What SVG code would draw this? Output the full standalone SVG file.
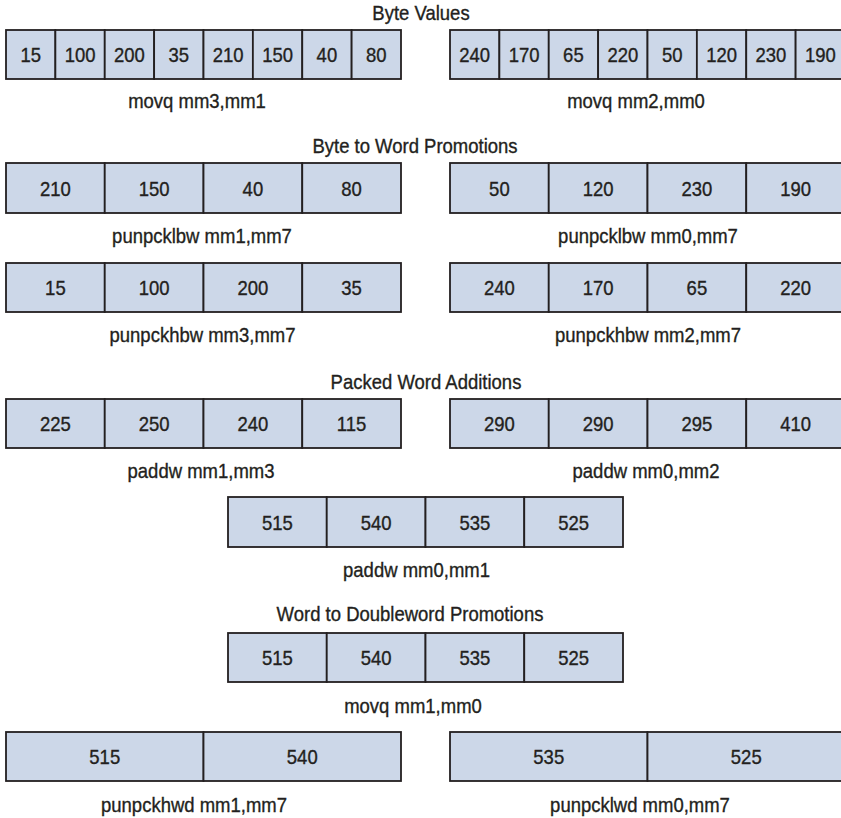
<svg xmlns="http://www.w3.org/2000/svg" width="841" height="818" viewBox="0 0 841 818">
<style>
  .c { fill: #CCD7E8; stroke: #231F20; stroke-width: 1.8; }
  text { font-family: "Liberation Sans", Arial, sans-serif; font-size: 20px; fill: #231F20; stroke: #231F20; stroke-width: 0.35; text-anchor: middle; }
</style>
<rect width="841" height="818" fill="#FFFFFF"/>

<!-- Titles -->
<g id="titles">
  <text transform="matrix(0.925 0 0 1 421 20)">Byte Values</text>
  <text transform="matrix(0.925 0 0 1 415 153)">Byte to Word Promotions</text>
  <text transform="matrix(0.925 0 0 1 426 389)">Packed Word Additions</text>
  <text transform="matrix(0.925 0 0 1 410 621)">Word to Doubleword Promotions</text>
</g>

<!-- Row 1: byte values -->
<g id="mm1-bytes">
  <rect class="c" x="6" y="30" width="49.375" height="49"/>
  <rect class="c" x="55.375" y="30" width="49.375" height="49"/>
  <rect class="c" x="104.75" y="30" width="49.375" height="49"/>
  <rect class="c" x="154.125" y="30" width="49.375" height="49"/>
  <rect class="c" x="203.5" y="30" width="49.375" height="49"/>
  <rect class="c" x="252.875" y="30" width="49.375" height="49"/>
  <rect class="c" x="302.25" y="30" width="49.375" height="49"/>
  <rect class="c" x="351.625" y="30" width="49.375" height="49"/>
  <text transform="matrix(0.925 0 0 1 30.7 61.5)">15</text>
  <text transform="matrix(0.925 0 0 1 80.1 61.5)">100</text>
  <text transform="matrix(0.925 0 0 1 129.4 61.5)">200</text>
  <text transform="matrix(0.925 0 0 1 178.8 61.5)">35</text>
  <text transform="matrix(0.925 0 0 1 228.2 61.5)">210</text>
  <text transform="matrix(0.925 0 0 1 277.6 61.5)">150</text>
  <text transform="matrix(0.925 0 0 1 326.9 61.5)">40</text>
  <text transform="matrix(0.925 0 0 1 376.3 61.5)">80</text>
  <text transform="matrix(0.925 0 0 1 197 108)">movq mm3,mm1</text>
</g>
<g id="mm0-bytes">
  <rect class="c" x="450" y="30" width="49.375" height="49"/>
  <rect class="c" x="499.375" y="30" width="49.375" height="49"/>
  <rect class="c" x="548.75" y="30" width="49.375" height="49"/>
  <rect class="c" x="598.125" y="30" width="49.375" height="49"/>
  <rect class="c" x="647.5" y="30" width="49.375" height="49"/>
  <rect class="c" x="696.875" y="30" width="49.375" height="49"/>
  <rect class="c" x="746.25" y="30" width="49.375" height="49"/>
  <rect class="c" x="795.625" y="30" width="49.375" height="49"/>
  <text transform="matrix(0.925 0 0 1 474.7 61.5)">240</text>
  <text transform="matrix(0.925 0 0 1 524.1 61.5)">170</text>
  <text transform="matrix(0.925 0 0 1 573.4 61.5)">65</text>
  <text transform="matrix(0.925 0 0 1 622.8 61.5)">220</text>
  <text transform="matrix(0.925 0 0 1 672.2 61.5)">50</text>
  <text transform="matrix(0.925 0 0 1 721.6 61.5)">120</text>
  <text transform="matrix(0.925 0 0 1 770.9 61.5)">230</text>
  <text transform="matrix(0.925 0 0 1 820.3 61.5)">190</text>
  <text transform="matrix(0.925 0 0 1 636 108)">movq mm2,mm0</text>
</g>

<!-- Row 2: punpcklbw -->
<g id="mm1-lo-words">
  <rect class="c" x="6" y="163" width="98.75" height="50"/>
  <rect class="c" x="104.75" y="163" width="98.75" height="50"/>
  <rect class="c" x="203.5" y="163" width="98.75" height="50"/>
  <rect class="c" x="302.25" y="163" width="98.75" height="50"/>
  <text transform="matrix(0.925 0 0 1 55.4 195.5)">210</text>
  <text transform="matrix(0.925 0 0 1 154.1 195.5)">150</text>
  <text transform="matrix(0.925 0 0 1 252.9 195.5)">40</text>
  <text transform="matrix(0.925 0 0 1 351.6 195.5)">80</text>
  <text transform="matrix(0.925 0 0 1 202 243)">punpcklbw mm1,mm7</text>
</g>
<g id="mm0-lo-words">
  <rect class="c" x="450" y="163" width="98.75" height="50"/>
  <rect class="c" x="548.75" y="163" width="98.75" height="50"/>
  <rect class="c" x="647.5" y="163" width="98.75" height="50"/>
  <rect class="c" x="746.25" y="163" width="98.75" height="50"/>
  <text transform="matrix(0.925 0 0 1 499.4 195.5)">50</text>
  <text transform="matrix(0.925 0 0 1 598.1 195.5)">120</text>
  <text transform="matrix(0.925 0 0 1 696.9 195.5)">230</text>
  <text transform="matrix(0.925 0 0 1 795.6 195.5)">190</text>
  <text transform="matrix(0.925 0 0 1 648 243)">punpcklbw mm0,mm7</text>
</g>

<!-- Row 3: punpckhbw -->
<g id="mm3-hi-words">
  <rect class="c" x="6" y="263" width="98.75" height="49"/>
  <rect class="c" x="104.75" y="263" width="98.75" height="49"/>
  <rect class="c" x="203.5" y="263" width="98.75" height="49"/>
  <rect class="c" x="302.25" y="263" width="98.75" height="49"/>
  <text transform="matrix(0.925 0 0 1 55.4 294.5)">15</text>
  <text transform="matrix(0.925 0 0 1 154.1 294.5)">100</text>
  <text transform="matrix(0.925 0 0 1 252.9 294.5)">200</text>
  <text transform="matrix(0.925 0 0 1 351.6 294.5)">35</text>
  <text transform="matrix(0.925 0 0 1 202.5 342)">punpckhbw mm3,mm7</text>
</g>
<g id="mm2-hi-words">
  <rect class="c" x="450" y="263" width="98.75" height="49"/>
  <rect class="c" x="548.75" y="263" width="98.75" height="49"/>
  <rect class="c" x="647.5" y="263" width="98.75" height="49"/>
  <rect class="c" x="746.25" y="263" width="98.75" height="49"/>
  <text transform="matrix(0.925 0 0 1 499.4 294.5)">240</text>
  <text transform="matrix(0.925 0 0 1 598.1 294.5)">170</text>
  <text transform="matrix(0.925 0 0 1 696.9 294.5)">65</text>
  <text transform="matrix(0.925 0 0 1 795.6 294.5)">220</text>
  <text transform="matrix(0.925 0 0 1 648 342)">punpckhbw mm2,mm7</text>
</g>

<!-- Row 4: paddw -->
<g id="mm1-sum">
  <rect class="c" x="6" y="399" width="98.75" height="49"/>
  <rect class="c" x="104.75" y="399" width="98.75" height="49"/>
  <rect class="c" x="203.5" y="399" width="98.75" height="49"/>
  <rect class="c" x="302.25" y="399" width="98.75" height="49"/>
  <text transform="matrix(0.925 0 0 1 55.4 430.5)">225</text>
  <text transform="matrix(0.925 0 0 1 154.1 430.5)">250</text>
  <text transform="matrix(0.925 0 0 1 252.9 430.5)">240</text>
  <text transform="matrix(0.925 0 0 1 351.6 430.5)">115</text>
  <text transform="matrix(0.925 0 0 1 201 478)">paddw mm1,mm3</text>
</g>
<g id="mm0-sum">
  <rect class="c" x="450" y="399" width="98.75" height="49"/>
  <rect class="c" x="548.75" y="399" width="98.75" height="49"/>
  <rect class="c" x="647.5" y="399" width="98.75" height="49"/>
  <rect class="c" x="746.25" y="399" width="98.75" height="49"/>
  <text transform="matrix(0.925 0 0 1 499.4 430.5)">290</text>
  <text transform="matrix(0.925 0 0 1 598.1 430.5)">290</text>
  <text transform="matrix(0.925 0 0 1 696.9 430.5)">295</text>
  <text transform="matrix(0.925 0 0 1 795.6 430.5)">410</text>
  <text transform="matrix(0.925 0 0 1 646 478)">paddw mm0,mm2</text>
</g>

<!-- Row 5: paddw mm0,mm1 -->
<g id="mm0-total">
  <rect class="c" x="228" y="497" width="98.75" height="50"/>
  <rect class="c" x="326.75" y="497" width="98.75" height="50"/>
  <rect class="c" x="425.5" y="497" width="98.75" height="50"/>
  <rect class="c" x="524.25" y="497" width="98.75" height="50"/>
  <text transform="matrix(0.925 0 0 1 277.4 529.5)">515</text>
  <text transform="matrix(0.925 0 0 1 376.1 529.5)">540</text>
  <text transform="matrix(0.925 0 0 1 474.9 529.5)">535</text>
  <text transform="matrix(0.925 0 0 1 573.6 529.5)">525</text>
  <text transform="matrix(0.925 0 0 1 416.5 577)">paddw mm0,mm1</text>
</g>

<!-- Row 6: movq mm1,mm0 -->
<g id="mm1-copy">
  <rect class="c" x="228" y="633" width="98.75" height="49"/>
  <rect class="c" x="326.75" y="633" width="98.75" height="49"/>
  <rect class="c" x="425.5" y="633" width="98.75" height="49"/>
  <rect class="c" x="524.25" y="633" width="98.75" height="49"/>
  <text transform="matrix(0.925 0 0 1 277.4 664.5)">515</text>
  <text transform="matrix(0.925 0 0 1 376.1 664.5)">540</text>
  <text transform="matrix(0.925 0 0 1 474.9 664.5)">535</text>
  <text transform="matrix(0.925 0 0 1 573.6 664.5)">525</text>
  <text transform="matrix(0.925 0 0 1 413 713)">movq mm1,mm0</text>
</g>

<!-- Row 7: doubleword promotions -->
<g id="mm1-dwords">
  <rect class="c" x="6" y="732" width="197.5" height="49"/>
  <rect class="c" x="203.5" y="732" width="197.5" height="49"/>
  <text transform="matrix(0.925 0 0 1 104.75 763.5)">515</text>
  <text transform="matrix(0.925 0 0 1 302.25 763.5)">540</text>
  <text transform="matrix(0.925 0 0 1 194 812)">punpckhwd mm1,mm7</text>
</g>
<g id="mm0-dwords">
  <rect class="c" x="450" y="732" width="197.5" height="49"/>
  <rect class="c" x="647.5" y="732" width="197.5" height="49"/>
  <text transform="matrix(0.925 0 0 1 548.75 763.5)">535</text>
  <text transform="matrix(0.925 0 0 1 746.25 763.5)">525</text>
  <text transform="matrix(0.925 0 0 1 640 812)">punpcklwd mm0,mm7</text>
</g>

<g id="connectors"></g>
</svg>
